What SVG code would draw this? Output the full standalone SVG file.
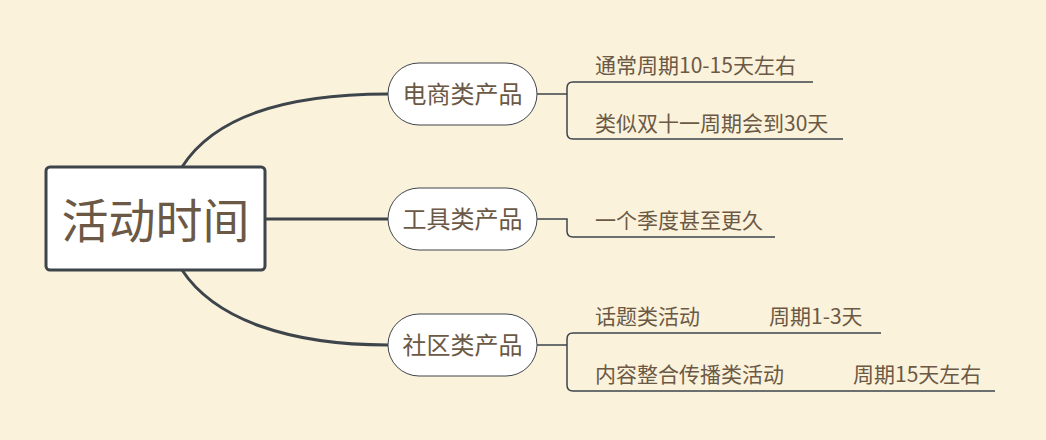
<svg xmlns="http://www.w3.org/2000/svg" width="1046" height="440" viewBox="0 0 1046 440">
<style>
.c{fill:none;stroke:#3d454b;stroke-width:3}
.l{fill:none;stroke:#3d454b;stroke-width:1.5}
.n{fill:#fff;stroke:#3d454b;stroke-width:1}
text{font-family:"Noto Sans CJK SC","Noto Sans",sans-serif;fill:#6b5945}
.t{font-size:24px;text-anchor:middle}
.s{font-size:21px}
</style>
<rect width="1046" height="440" fill="#fbf2dc"/>
<g id="connectors">
<path class="c" d="M182,167 C215,115 290,94 388,94"/>
<path class="c" d="M265,219 H388"/>
<path class="c" d="M182,270 C215,320 290,345 388,345"/>
<path class="l" d="M537,94 H567 M567,94 V88 Q567,82 573,82 H813 M567,94 V133 Q567,139 573,139 H843"/>
<path class="l" d="M537,219 H567 V231 Q567,237 573,237 H775"/>
<path class="l" d="M537,345 H567 V339 Q567,333 573,333 H881 M567,345 V385 Q567,391 573,391 H995"/>
</g>
<g id="root"><rect x="46" y="167" width="219" height="103" rx="4" fill="#fff" stroke="#3d454b" stroke-width="3"/><text x="155.5" y="238" font-size="47" text-anchor="middle">活动时间</text></g>
<g id="n1"><rect class="n" x="388" y="63" width="149" height="62" rx="31"/><text class="t" x="462.5" y="103">电商类产品</text></g>
<g id="n2"><rect class="n" x="388" y="188" width="149" height="62" rx="31"/><text class="t" x="462.5" y="228">工具类产品</text></g>
<g id="n3"><rect class="n" x="388" y="314" width="149" height="62" rx="31"/><text class="t" x="462.5" y="354">社区类产品</text></g>
<g id="leaves">
<text class="s" x="595" y="73">通常周期10-15天左右</text>
<text class="s" x="595" y="131">类似双十一周期会到30天</text>
<text class="s" x="595" y="228">一个季度甚至更久</text>
<text class="s" x="595" y="324">话题类活动</text>
<text class="s" x="769" y="324">周期1-3天</text>
<text class="s" x="595" y="382">内容整合传播类活动</text>
<text class="s" x="853" y="382">周期15天左右</text>
</g>
</svg>
